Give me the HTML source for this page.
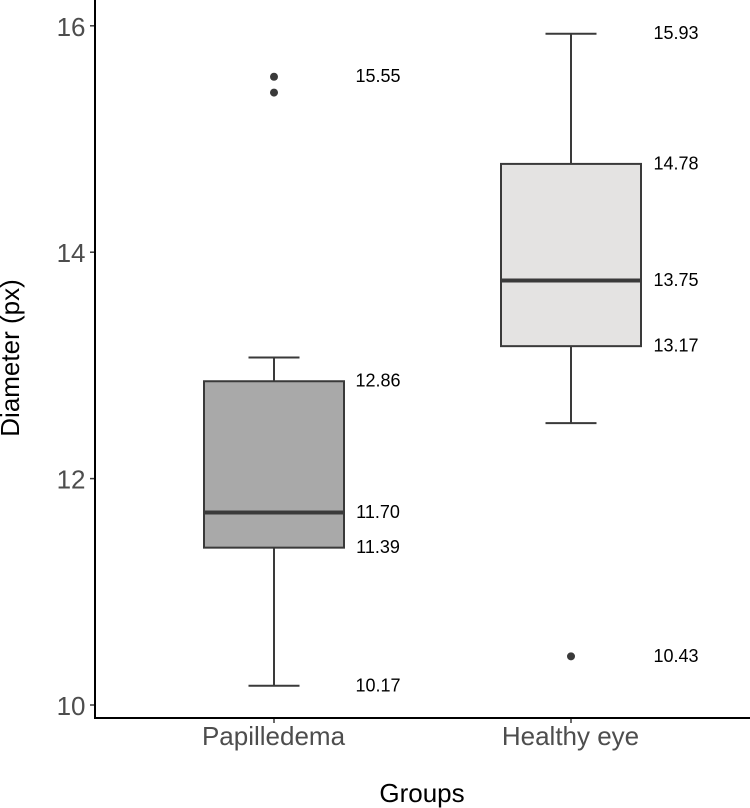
<!DOCTYPE html>
<html>
<head>
<meta charset="utf-8">
<style>
html,body{margin:0;padding:0;background:#fff;}
svg{display:block;font-family:"Liberation Sans",Arial,sans-serif;}
</style>
</head>
<body>
<svg id="chart" width="750" height="808" viewBox="0 0 750 808" xmlns="http://www.w3.org/2000/svg"></svg>
<script>
const categories = ['Papilledema', 'Healthy eye'];
const whiskerLow = [10.17, 12.49];
const q1 = [11.39, 13.17];
const medians = [11.70, 13.75];
const q3 = [12.86, 14.78];
const whiskerHigh = [13.07, 15.93];
const outliers = [[15.55, 15.41], [10.43]];
const printedValues = [[10.17, 11.39, 11.70, 12.86, 15.55], [10.43, 13.17, 13.75, 14.78, 15.93]];
const yTicks = [10, 12, 14, 16];
const boxFills = ['#a9a9a9', '#e4e3e2'];

const svg = document.getElementById('chart');
const NS = 'http://www.w3.org/2000/svg';
const INK = '#3a3a3a';
const yScale = v => 705 - (v - 10) * 113.2;
const xScale = i => 274 + i * 297;

function add(tag, attrs, parent, text) {
  const el = document.createElementNS(NS, tag);
  for (const k in attrs) el.setAttribute(k, attrs[k]);
  if (text !== undefined) el.textContent = text;
  (parent || svg).appendChild(el);
  return el;
}

categories.forEach((cat, i) => {
  const x = xScale(i);
  const g = add('g', {});
  
  

  const upper = add('line', {x1: x, x2: x, y1: yScale(q3[i]), y2: yScale(whiskerHigh[i]), stroke: INK, 'stroke-width': 2}, g);
  
  

  const lower = add('line', {x1: x, x2: x, y1: yScale(q1[i]), y2: yScale(whiskerLow[i]), stroke: INK, 'stroke-width': 2}, g);
  
  

  const capHigh = add('line', {x1: x - 25.5, x2: x + 25.5, y1: yScale(whiskerHigh[i]), y2: yScale(whiskerHigh[i]), stroke: INK, 'stroke-width': 2}, g);
  
  

  const capLow = add('line', {x1: x - 25.5, x2: x + 25.5, y1: yScale(whiskerLow[i]), y2: yScale(whiskerLow[i]), stroke: INK, 'stroke-width': 2}, g);
  
  

  const box = add('rect', {x: x - 70, y: yScale(q3[i]), width: 140, height: yScale(q1[i]) - yScale(q3[i]), fill: boxFills[i], stroke: INK, 'stroke-width': 2}, g);
  
  

  const med = add('line', {x1: x - 70, x2: x + 70, y1: yScale(medians[i]), y2: yScale(medians[i]), stroke: INK, 'stroke-width': 4}, g);
  
  

  outliers[i].forEach(v => {
    const p = add('circle', {cx: x, cy: yScale(v), r: 4, fill: INK}, g);
    
    
  });

  printedValues[i].forEach(v => {
    const t = add('text', {x: x + 104 + i, y: yScale(v) + 5.5, 'text-anchor': 'middle', 'font-size': 18, fill: '#000'}, g, v.toFixed(2));
    
    
  });

  const tick = add('line', {x1: x, x2: x, y1: 718, y2: 723, stroke: INK, 'stroke-width': 1.5});
  
  

  const lab = add('text', {x: x - 0.5, y: 745, 'text-anchor': 'middle', 'font-size': 26, fill: '#4d4d4d'}, null, cat);
  
  
});

yTicks.forEach(v => {
  const tick = add('line', {x1: 90, x2: 95, y1: yScale(v), y2: yScale(v), stroke: INK, 'stroke-width': 1.5});
  
  

  const lab = add('text', {x: 85.5, y: yScale(v) + 10, 'text-anchor': 'end', 'font-size': 26, fill: '#4d4d4d'}, null, String(v));
  
  
});

const yAxis = add('line', {x1: 95, x2: 95, y1: 0, y2: 719, stroke: '#000', 'stroke-width': 2});



const xAxis = add('line', {x1: 94, x2: 750, y1: 718, y2: 718, stroke: '#000', 'stroke-width': 2});



const xTitle = add('text', {x: 422, y: 802, 'text-anchor': 'middle', 'font-size': 26, fill: '#000'}, null, 'Groups');



const yTitle = add('text', {x: 0, y: 0, transform: 'translate(19,358) rotate(-90)', 'text-anchor': 'middle', 'font-size': 26, fill: '#000'}, null, 'Diameter (px)');


</script>
</body>
</html>
